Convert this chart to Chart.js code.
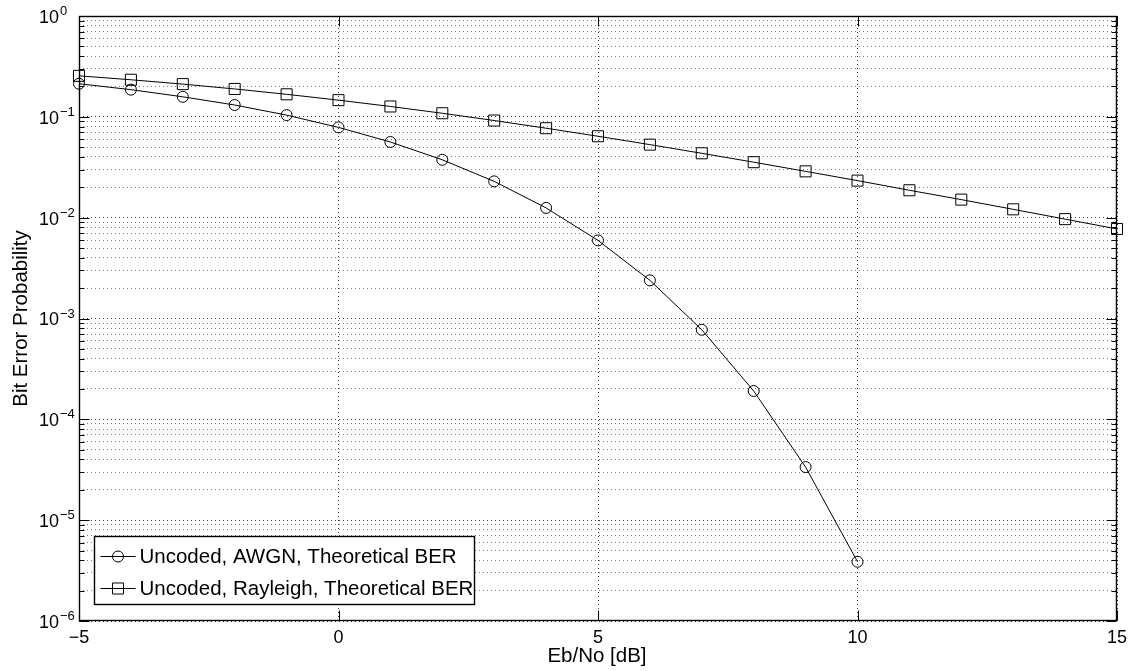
<!DOCTYPE html>
<html>
<head>
<meta charset="utf-8">
<title>Bit Error Probability</title>
<script src="https://cdn.jsdelivr.net/npm/chart.js"></script>
<style>
  html, body { margin: 0; padding: 0; background: #fff; }
  #berChart { display: block; }
</style>
</head>
<body>
<canvas id="berChart" width="1134" height="671"></canvas>
<script>
// Eb/No points in dB
const ebno = [-5, -4, -3, -2, -1, 0, 1, 2, 3, 4, 5, 6, 7, 8, 9, 10, 11, 12, 13, 14, 15];

// BER curves (AWGN stops at 10 dB)
const awgnBer = [0.213, 0.186, 0.158, 0.131, 0.104, 0.0786, 0.0563, 0.0375, 0.0229, 0.0125,
                 0.00595, 0.00239, 0.000773, 0.000191, 3.36e-5, 3.87e-6];
const rayleighBer = [0.2549, 0.2332, 0.2111, 0.189, 0.1673, 0.1464, 0.1267, 0.1085, 0.0919, 0.0771,
                     0.0642, 0.053, 0.0435, 0.0355, 0.0288, 0.0233, 0.0187, 0.0151, 0.0121, 0.00967, 0.00773];

const seriesNames = ['Uncoded, AWGN, Theoretical BER', 'Uncoded, Rayleigh, Theoretical BER'];
const xTicks = [-5, 0, 5, 10, 15];
const yDecades = [-6, -5, -4, -3, -2, -1, 0];
const xTitle = 'Eb/No [dB]';
const yTitle = 'Bit Error Probability';

const FONT = '"Liberation Sans", Arial, Helvetica, sans-serif';

// log ticks: 1..9 in every decade, decades flagged as major
const yTicks = [];
yDecades.forEach((d, i) => {
  if (i === yDecades.length - 1) { yTicks.push({ value: Math.pow(10, d), major: true }); return; }
  for (let m = 1; m <= 9; m++) {
    yTicks.push({ value: Number((m * Math.pow(10, d)).toPrecision(6)), major: m === 1 });
  }
});

function toPoints(values) {
  return values.map((v, i) => ({ x: ebno[i], y: v }));
}

function minus(n) {
  return n < 0 ? '\u2212' + (-n) : String(n);
}

// box, inward ticks and tick labels in the old matlab look
const frame = {
  id: 'frame',
  afterDatasetsDraw(chart) {
    const c = chart.ctx;
    const a = chart.chartArea;
    const xs = chart.scales.x, ys = chart.scales.y;
    const L = Math.round(a.left) + 0.5, R = Math.round(a.right) - 0.5;
    const T = Math.round(a.top) + 0.5, B = Math.round(a.bottom) - 0.5;
    c.save();
    c.strokeStyle = '#000';
    c.lineWidth = 1;
    c.beginPath();
    yTicks.forEach(t => {
      const p = Math.round(ys.getPixelForValue(t.value)) + 0.5;
      const len = t.major ? 10 : 5;
      c.moveTo(L, p); c.lineTo(L + len, p);
      c.moveTo(R, p); c.lineTo(R - len, p);
    });
    xTicks.forEach(v => {
      const p = Math.round(xs.getPixelForValue(v)) + 0.5;
      c.moveTo(p, B); c.lineTo(p, B - 10);
      c.moveTo(p, T); c.lineTo(p, T + 10);
    });
    c.stroke();
    c.lineWidth = 1.4;
    c.strokeRect(L, T, R - L, B - T);

    c.fillStyle = '#000';
    // y labels: 10 with exponent
    yDecades.forEach(d => {
      const p = ys.getPixelForValue(Math.pow(10, d));
      c.font = '18px ' + FONT;
      c.textAlign = 'right';
      c.textBaseline = 'middle';
      c.fillText('10', a.left - 20, p + 2);
      c.font = '13px ' + FONT;
      c.textAlign = 'left';
      c.textBaseline = 'alphabetic';
      c.fillText(minus(d), a.left - 19, p - 1);
    });
    // x labels
    c.font = '18px ' + FONT;
    c.textAlign = 'center';
    c.textBaseline = 'middle';
    xTicks.forEach(v => {
      c.fillText(minus(v), xs.getPixelForValue(v), a.bottom + 17);
    });
    c.font = '20.5px ' + FONT;
    c.fillText(xTitle, (a.left + a.right) / 2 - 1, a.bottom + 35);
    c.translate(21, (a.top + a.bottom) / 2);
    c.rotate(-Math.PI / 2);
    c.fillText(yTitle, 0, 0);
    c.restore();
  },
  afterDraw(chart) {
    // legend box, bottom left
    const c = chart.ctx;
    const a = chart.chartArea;
    const bx = a.left + 15.5, by = a.bottom - 84.5, bw = 380, bh = 68;
    c.save();
    c.fillStyle = '#fff';
    c.fillRect(bx, by, bw, bh);
    c.strokeStyle = '#000';
    c.lineWidth = 1.4;
    c.strokeRect(bx, by, bw, bh);
    chart.data.datasets.forEach((ds, i) => {
      const y = Math.round(by + 19 + i * 32) + 0.5;
      c.strokeStyle = '#000';
      c.lineWidth = 1;
      c.beginPath();
      c.moveTo(bx + 6, y); c.lineTo(bx + 41, y);
      c.stroke();
      c.fillStyle = 'rgba(0,0,0,0)';
      Chart.helpers.drawPoint(c, {
        pointStyle: ds.pointStyle, radius: ds.pointRadius, borderWidth: 1, rotation: 0
      }, bx + 23.5, y);
      c.fillStyle = '#000';
      c.font = '20.5px ' + FONT;
      c.textAlign = 'left';
      c.textBaseline = 'middle';
      c.fillText(ds.label, bx + 45, y + 1);
    });
    c.restore();
  }
};

const gridColor = ctx => (ctx.tick && ctx.tick.major) ? 'rgba(0,0,0,0.75)' : 'rgba(0,0,0,0.5)';

new Chart(document.getElementById('berChart').getContext('2d'), {
  type: 'line',
  data: {
    datasets: [
      {
        label: seriesNames[0],
        data: toPoints(awgnBer),
        borderColor: '#000',
        borderWidth: 1,
        pointStyle: 'circle',
        pointRadius: 5.5,
        pointBorderColor: '#000',
        pointBackgroundColor: 'rgba(0,0,0,0)',
        pointBorderWidth: 1,
        tension: 0,
        clip: false
      },
      {
        label: seriesNames[1],
        data: toPoints(rayleighBer),
        borderColor: '#000',
        borderWidth: 1,
        pointStyle: 'rect',
        pointRadius: 7.8,
        pointBorderColor: '#000',
        pointBackgroundColor: 'rgba(0,0,0,0)',
        pointBorderWidth: 1,
        tension: 0,
        clip: false
      }
    ]
  },
  options: {
    responsive: false,
    animation: false,
    devicePixelRatio: 1,
    layout: { padding: { top: 16, right: 17, left: 0, bottom: 0 } },
    plugins: { legend: { display: false }, tooltip: { enabled: false } },
    scales: {
      x: {
        type: 'linear',
        min: -5,
        max: 15,
        ticks: { display: false },
        afterBuildTicks: s => { s.ticks = xTicks.map(v => ({ value: v, major: true })); },
        afterFit: s => { s.height = 50; },
        grid: { color: gridColor, lineWidth: 1, drawTicks: false },
        border: { display: false, dash: [1, 3] }
      },
      y: {
        type: 'logarithmic',
        min: 1e-6,
        max: 1,
        ticks: { display: false },
        afterBuildTicks: s => { s.ticks = yTicks.map(t => ({ value: t.value, major: t.major })); },
        afterFit: s => { s.width = 79; },
        grid: { color: gridColor, lineWidth: 1, drawTicks: false },
        border: { display: false, dash: [1, 3] }
      }
    }
  },
  plugins: [frame]
});
</script>
</body>
</html>
